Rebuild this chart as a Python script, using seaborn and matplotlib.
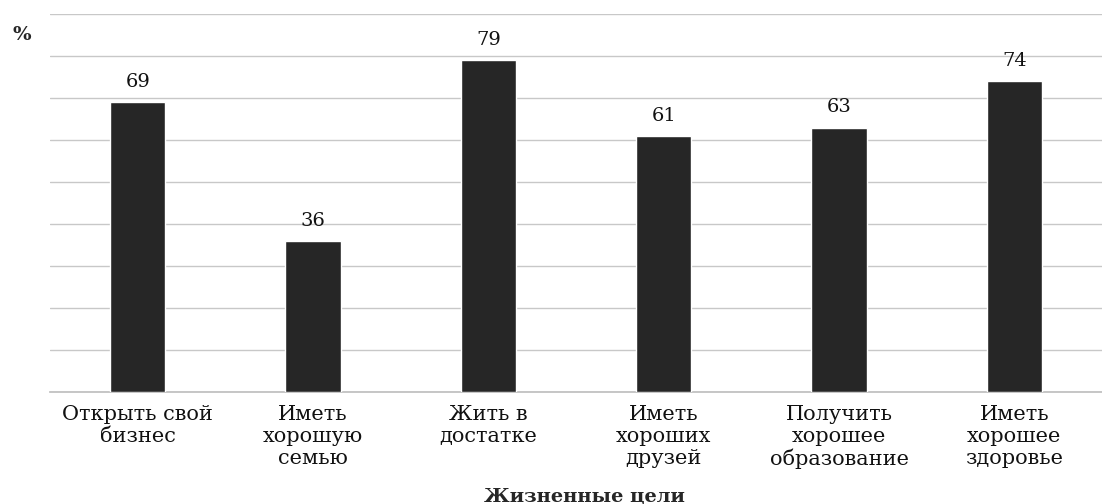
import matplotlib.pyplot as plt
import seaborn as sns
import pandas as pd

categories = ["Открыть свой\nбизнес", "Иметь\nхорошую\nсемью", "Жить в\nдостатке",
              "Иметь\nхороших\nдрузей", "Получить\nхорошее\nобразование", "Иметь\nхорошее\nздоровье"]
values = [69, 36, 79, 61, 63, 74]

sns.set_theme(style="white")
plt.rcParams['font.family'] = ['DejaVu Serif', 'Liberation Serif']

df = pd.DataFrame({"goal": categories, "pct": values})

fig = plt.figure(figsize=(11.02, 5.04), dpi=100)
ax = fig.add_axes([0.0454, 0.222, 0.9546, 0.75])
sns.barplot(data=df, x="goal", y="pct", color="#262626", saturation=1, width=0.315, ax=ax, zorder=3)

ax.set_ylim(0, 90)
ax.set_xlim(-0.5, 5.5)
ax.set_yticks(range(0, 91, 10))
ax.set_yticklabels([])
ax.tick_params(axis="y", length=0)
ax.tick_params(axis="x", length=0, labelsize=15, pad=9, colors="#111111")
for lbl in ax.get_xticklabels():
    lbl.set_linespacing(1.2)
ax.grid(axis="y", color="#c8c8c8", linewidth=1)
for s in ["left", "right", "top"]:
    ax.spines[s].set_visible(False)
ax.spines["bottom"].set_color("#bfbfbf")

for i, v in enumerate(values):
    ax.text(i, v + 4.8, str(v), ha="center", va="center", fontsize=14, color="#111111")

ax.set_xlabel("")
ax.set_ylabel("")
fig.text(0.53, 0.015, "Жизненные цели", fontsize=14, fontweight="bold", ha="center", va="center")
fig.text(0.02, 0.93, "%", fontsize=14, fontweight="bold", ha="center", va="center")

fig.savefig("out.png", dpi=100)
